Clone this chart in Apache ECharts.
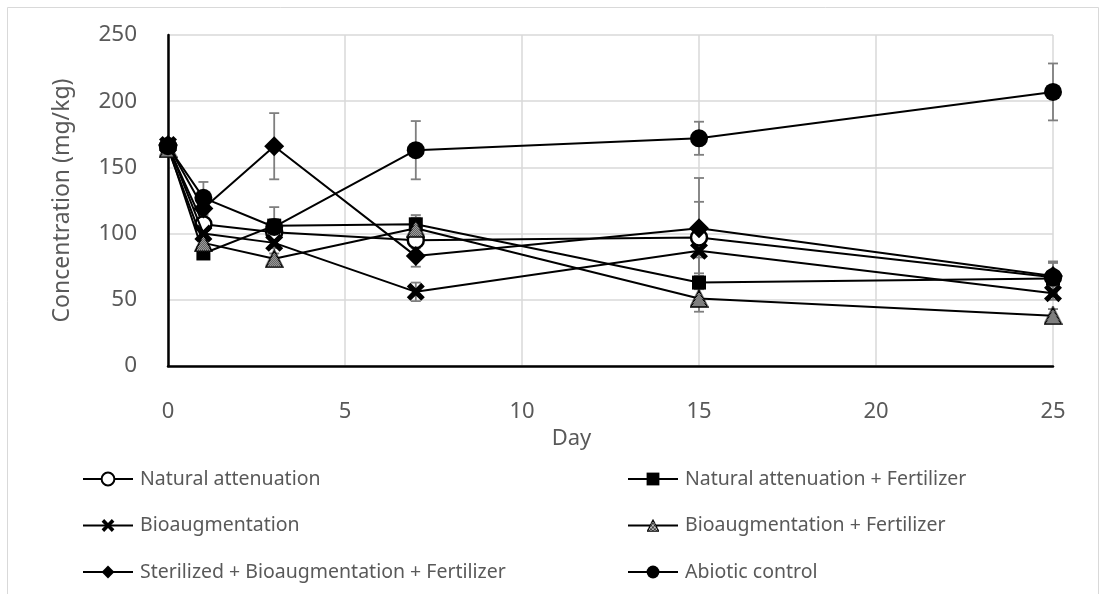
<!DOCTYPE html>
<html>
<head>
<meta charset="utf-8">
<script src="https://cdn.jsdelivr.net/npm/echarts@6/dist/echarts.min.js"></script>
<style>
  html, body { margin: 0; padding: 0; background: #fff; }
  #chart { width: 1111px; height: 594px; }
</style>
</head>
<body>
<div id="chart"></div>
<script>
// Sampling days
const days = [0, 1, 3, 7, 15, 25];

// Mean concentrations (mg/kg) per treatment
const naturalAttenuation   = [166, 107, 101, 95, 97, 67];
const naturalFertilizer    = [166, 85, 106, 107, 63, 66];
const bioaugmentation      = [167, 100, 93, 56, 87, 55];
const bioFertilizer        = [164, 93, 81, 104, 51, 38];
const sterilizedBioFert    = [167, 119, 166, 83, 104, 68];
const abioticControl       = [166, 127, 105, 163, 172, 207];

// Standard deviations (mg/kg)
const naturalAttenuationSd = [2, 5, 5, 6, 27, 12];
const naturalFertilizerSd  = [2, 4, 5, 7, 5, 12];
const bioaugmentationSd    = [2, 4, 4, 7, 5, 5];
const bioFertilizerSd      = [2, 4, 4, 8, 10, 5];
const sterilizedBioFertSd  = [2, 5, 25, 8, 38, 10];
const abioticControlSd     = [2, 12, 15, 22, 12.5, 21.5];

// Axis ticks
const xTicks = { min: 0, max: 25, interval: 5 };
const yTicks = { min: 0, max: 250, interval: 50 };

const seriesNames = [
  'Natural attenuation',
  'Natural attenuation + Fertilizer',
  'Bioaugmentation',
  'Bioaugmentation + Fertilizer',
  'Sterilized + Bioaugmentation + Fertilizer',
  'Abiotic control'
];

// Triangle marker with a fine checkered fill, drawn once as an image
function checkeredTriangle(size) {
  const c = document.createElement('canvas');
  c.width = size; c.height = size;
  const g = c.getContext('2d');
  const pat = document.createElement('canvas');
  pat.width = 2; pat.height = 2;
  const pg = pat.getContext('2d');
  pg.fillStyle = '#fff'; pg.fillRect(0, 0, 2, 2);
  pg.fillStyle = '#000'; pg.fillRect(0, 0, 1, 1); pg.fillRect(1, 1, 1, 1);
  g.beginPath();
  g.moveTo(size / 2, 1);
  g.lineTo(size - 1, size - 1);
  g.lineTo(1, size - 1);
  g.closePath();
  g.fillStyle = g.createPattern(pat, 'repeat');
  g.fill();
  g.lineWidth = 1.6;
  g.strokeStyle = '#000';
  g.lineJoin = 'miter';
  g.stroke();
  return 'image://' + c.toDataURL();
}

const crossPath = 'path://M2,0L5,3L8,0L10,2L7,5L10,8L8,10L5,7L2,10L0,8L3,5L0,2Z';

const styles = [
  { symbol: 'circle', size: 16, item: { color: '#fff', borderColor: '#000', borderWidth: 2.5 } },
  { symbol: 'rect', size: 14, item: { color: '#000' } },
  { symbol: crossPath, size: 18, item: { color: '#000' } },
  { symbol: checkeredTriangle(19), size: 19, item: { color: '#000' } },
  { symbol: 'diamond', size: 20, item: { color: '#000' } },
  { symbol: 'circle', size: 18, item: { color: '#000' } }
];

const means = [naturalAttenuation, naturalFertilizer, bioaugmentation, bioFertilizer, sterilizedBioFert, abioticControl];
const sds = [naturalAttenuationSd, naturalFertilizerSd, bioaugmentationSd, bioFertilizerSd, sterilizedBioFertSd, abioticControlSd];

function errorSeries(mean, sd, idx) {
  return {
    type: 'custom',
    name: 'sd' + idx,
    z: 1,
    silent: true,
    data: days.map((d, i) => [d, mean[i] - sd[i], mean[i] + sd[i]]),
    encode: { x: 0, y: [1, 2] },
    renderItem: function (params, api) {
      const x = api.coord([api.value(0), api.value(1)])[0];
      const lo = api.coord([api.value(0), api.value(1)])[1];
      const hi = api.coord([api.value(0), api.value(2)])[1];
      const cap = 5;
      const st = { stroke: '#7f7f7f', lineWidth: 1.8 };
      return {
        type: 'group',
        children: [
          { type: 'line', shape: { x1: x, y1: lo, x2: x, y2: hi }, style: st },
          { type: 'line', shape: { x1: x - cap, y1: lo, x2: x + cap, y2: lo }, style: st },
          { type: 'line', shape: { x1: x - cap, y1: hi, x2: x + cap, y2: hi }, style: st }
        ]
      };
    }
  };
}

const series = [];
means.forEach((m, i) => series.push(errorSeries(m, sds[i], i)));
means.forEach((m, i) => {
  series.push({
    type: 'line',
    name: seriesNames[i],
    z: 3 + i,
    data: days.map((d, k) => [d, m[k]]),
    symbol: styles[i].symbol,
    symbolSize: styles[i].size,
    showAllSymbol: true,
    lineStyle: { color: '#000', width: 2 },
    itemStyle: styles[i].item,
    emphasis: { disabled: true }
  });
});

const textColor = '#595959';
const fontFamily = '"Noto Sans", "Open Sans", sans-serif';

const legendText = { color: textColor, fontSize: 19.5, fontFamily: fontFamily, padding: [0, 0, 0, 2] };

const chart = echarts.init(document.getElementById('chart'), null, { renderer: 'canvas' });
chart.setOption({
  animation: false,
  backgroundColor: '#fff',
  textStyle: { fontFamily: fontFamily },
  graphic: [{
    type: 'rect',
    shape: { x: 7.5, y: 7.5, width: 1091, height: 600 },
    style: { fill: 'none', stroke: '#d9d9d9', lineWidth: 1 },
    silent: true
  }],
  grid: { left: 168, top: 35, right: 58, bottom: 228, containLabel: false },
  xAxis: {
    type: 'value',
    min: xTicks.min, max: xTicks.max, interval: xTicks.interval,
    name: 'Day',
    nameLocation: 'middle',
    nameGap: 62,
    nameTextStyle: { color: textColor, fontSize: 22, fontFamily: fontFamily, padding: [0, 78, 0, 0] },
    axisLine: { show: true, onZero: false, lineStyle: { color: '#000', width: 2.5 } },
    axisTick: { show: false },
    axisLabel: { color: textColor, fontSize: 22, margin: 35, fontFamily: fontFamily },
    splitLine: { show: true, lineStyle: { color: '#d9d9d9', width: 1.5 } }
  },
  yAxis: {
    type: 'value',
    min: yTicks.min, max: yTicks.max, interval: yTicks.interval,
    name: 'Concentration (mg/kg)',
    nameLocation: 'middle',
    nameGap: 94,
    nameRotate: 90,
    nameTextStyle: { color: textColor, fontSize: 23, fontFamily: fontFamily },
    axisLine: { show: true, lineStyle: { color: '#000', width: 2.5 } },
    axisTick: { show: false },
    axisLabel: { color: textColor, fontSize: 22.5, margin: 31, fontFamily: fontFamily },
    splitLine: { show: true, lineStyle: { color: '#d9d9d9', width: 1.5 } }
  },
  legend: [
    {
      data: [seriesNames[0], seriesNames[2], seriesNames[4]],
      orient: 'vertical',
      left: 82, top: 469, padding: 0,
      itemWidth: 50, itemHeight: 16, itemGap: 26.5,
      textStyle: legendText,
      selectedMode: false
    },
    {
      data: [seriesNames[1], seriesNames[3], seriesNames[5]],
      orient: 'vertical',
      left: 627, top: 469, padding: 0,
      itemWidth: 50, itemHeight: 16, itemGap: 26.5,
      textStyle: legendText,
      selectedMode: false
    }
  ],
  series: series
});
</script>
</body>
</html>
